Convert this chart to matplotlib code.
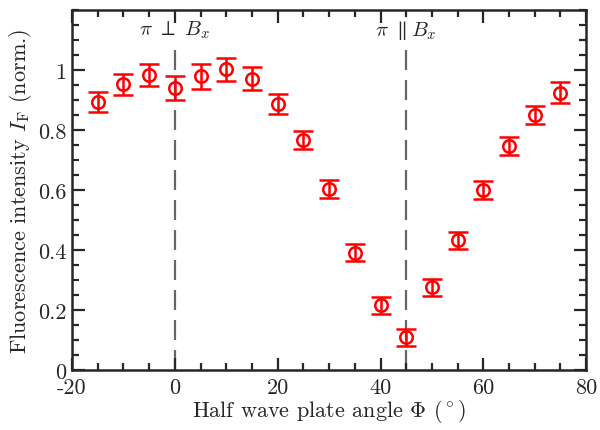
import matplotlib
matplotlib.use('Agg')
import matplotlib.pyplot as plt
from matplotlib.ticker import MultipleLocator

plt.rcParams['font.family'] = 'serif'
plt.rcParams['font.serif'] = ['cmr10', 'DejaVu Serif']
plt.rcParams['mathtext.fontset'] = 'cm'
plt.rcParams['axes.unicode_minus'] = False

# half wave plate angle (deg) and normalised fluorescence
angle = [-15, -10, -5, 0, 5, 10, 15, 20, 25, 30, 35, 40, 45, 50, 55, 60, 65, 70, 75]
intensity = [0.895, 0.953, 0.985, 0.940, 0.980, 1.003, 0.971, 0.888, 0.767, 0.604,
             0.392, 0.216, 0.109, 0.276, 0.433, 0.600, 0.746, 0.850, 0.925]
error = [0.033, 0.035, 0.037, 0.040, 0.042, 0.038, 0.038, 0.034, 0.031, 0.029,
         0.028, 0.028, 0.028, 0.028, 0.028, 0.029, 0.030, 0.031, 0.034]

# polarisation markers
marker_angles = [0, 45]
marker_labels = [r'$\pi\ \perp\ B_x$', r'$\pi\ \parallel B_x$']

xticks = [-20, 0, 20, 40, 60, 80]
xticklabels = ['-20', '0', '20', '40', '60', '80']
yticks = [0, 0.2, 0.4, 0.6, 0.8, 1]
yticklabels = ['0', '0.2', '0.4', '0.6', '0.8', '1']

fig = plt.figure(figsize=(6.0, 4.31), dpi=100)
ax = fig.add_axes([0.12, 0.139, 0.857, 0.835])

for a, lab in zip(marker_angles, marker_labels):
    ax.vlines(a, 0, 1.075, colors='#666666', linestyles=(0, (9, 4.5)), linewidth=1.6, zorder=1)
    ax.text(a, 1.135, lab, ha='center', va='center', fontsize=15, color='#262626')

ax.errorbar(angle, intensity, yerr=error, fmt='o', color='red', mfc='none', mec='red',
            markersize=9, markeredgewidth=1.8, elinewidth=1.8, capsize=7, capthick=1.8, zorder=3)

ax.set_xlim(-20, 80)
ax.set_ylim(0, 1.2)
ax.set_xticks(xticks)
ax.set_xticklabels(xticklabels)
ax.set_yticks(yticks)
ax.set_yticklabels(yticklabels)
ax.xaxis.set_minor_locator(MultipleLocator(5))
ax.yaxis.set_minor_locator(MultipleLocator(0.05))
ax.tick_params(which='both', direction='in', top=True, right=True, colors='#262626',
               labelsize=16, width=1.6)
ax.tick_params(which='major', length=9)
ax.tick_params(which='minor', length=5)
ax.tick_params(axis='x', pad=5)
ax.tick_params(axis='y', pad=4)
for s in ax.spines.values():
    s.set_linewidth(1.8)
    s.set_color('#262626')

ax.set_xlabel(r'Half wave plate angle $\Phi$ $(^\circ)$', fontsize=16, color='#262626', labelpad=0)
ax.set_ylabel(r'Fluorescence intensity $I_\mathrm{F}$ (norm.)', fontsize=16, color='#262626', labelpad=3)

fig.savefig('out.png', dpi=100)
